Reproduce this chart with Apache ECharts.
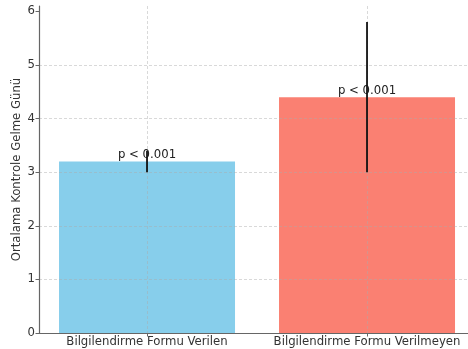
<!DOCTYPE html>
<html>
<head>
<meta charset="utf-8">
<script src="https://cdn.jsdelivr.net/npm/echarts@6/dist/echarts.min.js"></script>
<style>
  html, body { margin: 0; padding: 0; background: #fff; }
  #chart { width: 468px; height: 349px; }
</style>
</head>
<body>
<div id="chart"></div>
<script>
// Groups and mean follow-up visit days
const categories = ['Bilgilendirme Formu Verilen', 'Bilgilendirme Formu Verilmeyen'];
const means = [3.2, 4.4];
const errors = [0.2, 1.4];
const pLabels = ['p < 0.001', 'p < 0.001'];
const barColors = ['#87CEEB', '#FA8072'];
const yTicks = [0, 1, 2, 3, 4, 5, 6];
const xPositions = categories.map((c, i) => i);

const font = 'DejaVu Sans';
const fontSize = 11.7;
const gridLine = { show: true, lineStyle: { color: 'rgba(170,170,170,0.45)', width: 1, type: [3, 2] } };

const chart = echarts.init(document.getElementById('chart'), null, { renderer: 'canvas' });

const barData = means.map((v, i) => ({ value: [i, v], itemStyle: { color: barColors[i] } }));
const errorData = means.map((m, i) => [i, m - errors[i], m + errors[i]]);

chart.setOption({
  animation: false,
  grid: { left: 39, right: 0, top: 6, bottom: 16, containLabel: false, outerBoundsMode: 'none' },
  xAxis: {
    type: 'value',
    min: -0.491,
    max: 1.459,
    z: 5,
    axisLine: { show: true, onZero: false, lineStyle: { color: '#666', width: 1.2 } },
    axisTick: { show: true, length: 3.5, lineStyle: { color: '#666' }, customValues: xPositions },
    axisLabel: {
      fontFamily: font, fontSize: fontSize, color: '#333', margin: 3,
      customValues: xPositions,
      formatter: v => categories[Math.round(v)]
    },
    splitLine: gridLine
  },
  yAxis: {
    type: 'value',
    min: 0,
    max: 6.1,
    interval: 1,
    z: 5,
    name: 'Ortalama Kontrole Gelme Günü',
    nameLocation: 'middle',
    nameGap: 16,
    nameMoveOverlap: false,
    nameTextStyle: { fontFamily: font, fontSize: fontSize, color: '#333' },
    axisLine: { show: true, onZero: false, lineStyle: { color: '#666', width: 1.2 } },
    axisTick: { show: true, length: 3.5, lineStyle: { color: '#666' }, customValues: yTicks },
    axisLabel: { fontFamily: font, fontSize: fontSize, color: '#333', margin: 4, customValues: yTicks },
    splitLine: Object.assign({ showMaxLine: false }, gridLine)
  },
  series: [
    {
      type: 'bar',
      barWidth: 176,
      z: 2,
      data: barData,
      label: {
        show: true,
        position: 'top',
        distance: 0,
        fontFamily: font,
        fontSize: fontSize,
        color: '#222',
        formatter: p => pLabels[p.dataIndex]
      }
    },
    {
      type: 'custom',
      z: 10,
      data: errorData,
      renderItem: (params, api) => {
        const lo = api.coord([api.value(0), api.value(1)]);
        const hi = api.coord([api.value(0), api.value(2)]);
        return {
          type: 'line',
          shape: { x1: lo[0], y1: lo[1], x2: hi[0], y2: hi[1] },
          style: { stroke: '#111', lineWidth: 1.8 }
        };
      }
    }
  ]
});
</script>
</body>
</html>
